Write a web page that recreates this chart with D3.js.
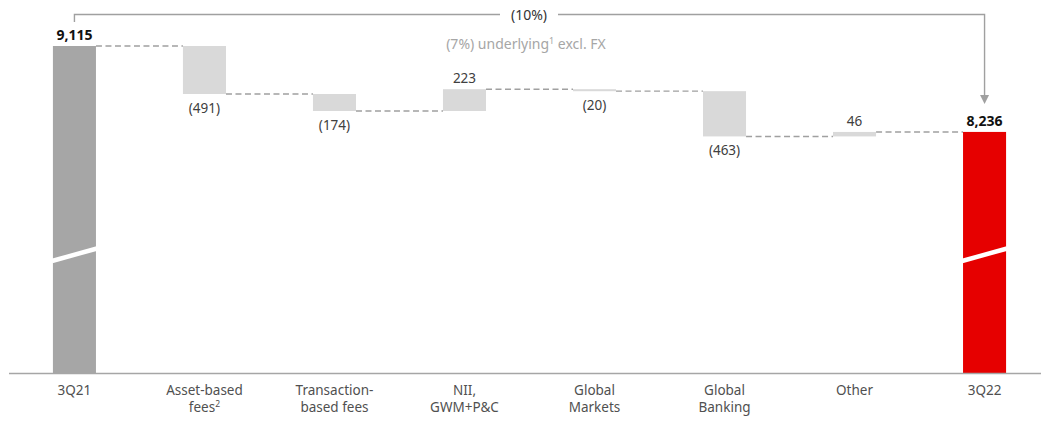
<!DOCTYPE html>
<html>
<head>
<meta charset="utf-8">
<script src="https://cdn.jsdelivr.net/npm/d3@7/dist/d3.min.js"></script>
<style>
  html, body { margin: 0; padding: 0; background: #fff; }
  svg { display: block; font-family: "Noto Sans", "Open Sans", sans-serif; }
</style>
</head>
<body>
<svg id="chart" width="1041" height="421"></svg>
<script>
// Revenue bridge, 3Q21 -> 3Q22 (USD m)
const categories = ["3Q21", "Asset-based fees", "Transaction-based fees", "NII, GWM+P&C",
                    "Global Markets", "Global Banking", "Other", "3Q22"];
const categoryLines = [["3Q21"], ["Asset-based", "fees²"], ["Transaction-", "based fees"],
                       ["NII,", "GWM+P&C"], ["Global", "Markets"], ["Global", "Banking"],
                       ["Other"], ["3Q22"]];
const startValue = 9115;
const endValue = 8236;
const deltas = [-491, -174, 223, -20, -463, 46];
const totalChangeLabel = "(10%)";
const underlyingLabel = "(7%) underlying";
const underlyingSup = "1";
const underlyingTail = " excl. FX";
const axisFloor = 5770;   // value at the broken baseline

const W = 1041, H = 421;
const svg = d3.select("#chart");

const x = d3.scaleBand().domain(categories).range([9.5, 1049.5])
  .paddingInner(0.669).paddingOuter(0.334);
const y = d3.scaleLinear().domain([axisFloor, startValue]).range([373, 46]);

// build waterfall segments
const rows = [];
let run = startValue;
rows.push({ cat: categories[0], lo: axisFloor, hi: startValue, value: startValue, kind: "start" });
deltas.forEach((d, i) => {
  const next = run + d;
  rows.push({ cat: categories[i + 1], lo: Math.min(run, next), hi: Math.max(run, next),
              value: d, from: run, to: next, kind: "delta" });
  run = next;
});
rows.push({ cat: categories[7], lo: axisFloor, hi: endValue, value: endValue, kind: "end" });

const fill = { start: "#a6a6a6", delta: "#d9d9d9", end: "#e60000" };
const fmt = d3.format(",");
const label = v => v < 0 ? `(${fmt(-v)})` : fmt(v);

// connectors
const levels = [startValue];
run = startValue;
deltas.forEach(d => { run += d; levels.push(run); });
svg.append("g").selectAll("line").data(levels).join("line")
  .attr("x1", (d, i) => x(categories[i]) + x.bandwidth())
  .attr("x2", (d, i) => x(categories[i + 1]))
  .attr("y1", d => y(d)).attr("y2", d => y(d))
  .attr("stroke", "#a0a0a0").attr("stroke-width", 1.4)
  .attr("stroke-dasharray", "6,3.5");

// bars
svg.append("g").selectAll("rect").data(rows).join("rect")
  .attr("x", d => x(d.cat)).attr("width", x.bandwidth())
  .attr("y", d => y(d.hi))
  .attr("height", d => Math.max(2, y(d.lo) - y(d.hi)))
  .attr("fill", d => fill[d.kind]);

// axis break stripes on the total bars
svg.append("g").selectAll("line").data(rows.filter(d => d.kind !== "delta")).join("line")
  .attr("x1", d => x(d.cat) - 1).attr("x2", d => x(d.cat) + x.bandwidth() + 1)
  .attr("y1", 261).attr("y2", 248.5)
  .attr("stroke", "#fff").attr("stroke-width", 4.5);

// value labels
svg.append("g").selectAll("text").data(rows).join("text")
  .attr("x", d => x(d.cat) + x.bandwidth() / 2)
  .attr("y", d => d.kind === "delta" && d.value < 0 ? y(d.lo) + 19 : y(d.hi) - 6)
  .attr("text-anchor", "middle")
  .attr("font-size", d => d.kind === "delta" ? 13.5 : 14)
  .attr("font-weight", d => d.kind === "delta" ? 400 : 700)
  .attr("fill", d => d.kind === "delta" ? "#404040" : "#111")
  .text(d => label(d.value));

// baseline
svg.append("line").attr("x1", 9).attr("x2", W).attr("y1", 373.5).attr("y2", 373.5)
  .attr("stroke", "#a6a6a6").attr("stroke-width", 1.3);

// category labels (each line is its own text element)
const catG = svg.append("g");
categories.forEach((d, i) => {
  const cx = x(d) + x.bandwidth() / 2;
  categoryLines[i].forEach((line, j) => {
    const t = catG.append("text")
      .attr("x", cx).attr("y", 395 + j * 16.5)
      .attr("text-anchor", "middle").attr("font-size", 13.5).attr("fill", "#505050");
    if (line.endsWith("²")) {
      t.append("tspan").text(line.slice(0, -1));
      t.append("tspan").attr("font-size", 8.5).attr("dy", -4.5).text("2");
    } else t.text(line);
  });
});

// total change bracket with arrow
const xs = x(categories[0]) + x.bandwidth() / 2;
const xe = x(categories[7]) + x.bandwidth() / 2;
const by = 14.5, gapL = 500, gapR = 558;
const bracket = svg.append("g").attr("stroke", "#a0a0a0").attr("stroke-width", 1.4).attr("fill", "none");
bracket.append("path").attr("d", `M${xs},22 V${by} H${gapL}`);
bracket.append("path").attr("d", `M${gapR},${by} H${xe} V${y(endValue) - 36}`);
svg.append("path")
  .attr("d", `M${xe - 4.5},${y(endValue) - 37} L${xe + 4.5},${y(endValue) - 37} L${xe},${y(endValue) - 28} Z`)
  .attr("fill", "#a0a0a0");

svg.append("text").attr("x", (gapL + gapR) / 2).attr("y", 19.5)
  .attr("text-anchor", "middle").attr("font-size", 14).attr("fill", "#333")
  .text(totalChangeLabel);

const u = svg.append("text").attr("x", 526).attr("y", 48.5)
  .attr("text-anchor", "middle").attr("font-size", 14).attr("fill", "#a6a6a6");
u.append("tspan").text(underlyingLabel);
u.append("tspan").attr("font-size", 9).attr("dy", -5).text(underlyingSup);
u.append("tspan").attr("dy", 5).text(underlyingTail);
</script>
</body>
</html>
